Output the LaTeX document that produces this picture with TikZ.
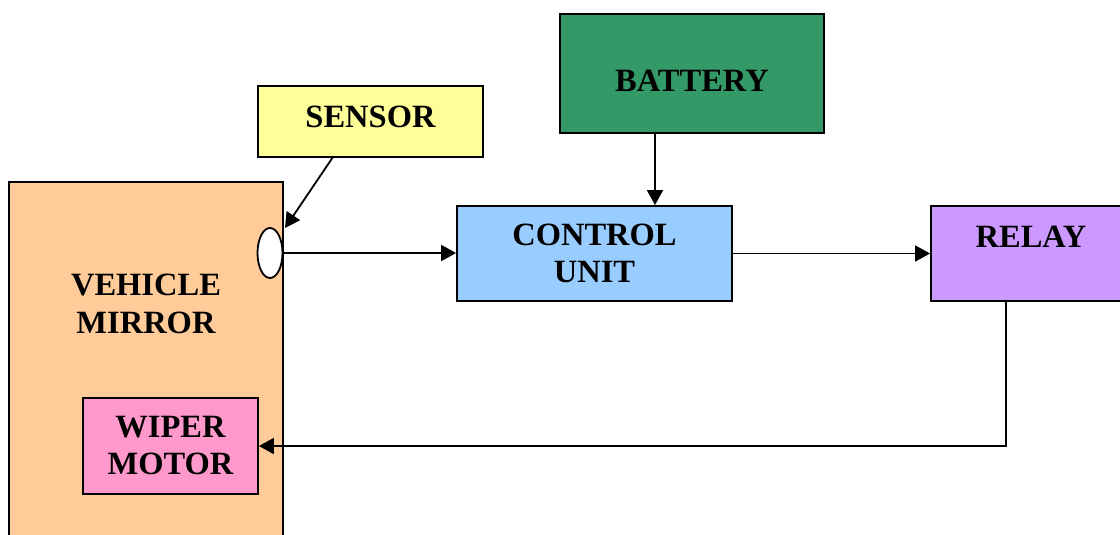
\documentclass[tikz,border=0pt]{standalone}
\usepackage{fontspec}
\setmainfont{Liberation Serif}
\usetikzlibrary{arrows.meta,shapes.geometric}
\definecolor{mirrorc}{HTML}{FFCC99}
\definecolor{sensorc}{HTML}{FFFF99}
\definecolor{batteryc}{HTML}{339966}
\definecolor{ctrlc}{HTML}{99CCFF}
\definecolor{relayc}{HTML}{CC99FF}
\definecolor{wiperc}{HTML}{FF99CC}
\tikzset{
  blk/.style={draw=black, line width=1.8pt, rectangle, inner sep=0pt, align=center,
    font=\fontsize{32.5}{37}\selectfont\bfseries},
  txt/.style={inner sep=0pt, align=center, font=\fontsize{32.5}{38}\selectfont\bfseries},
  arr/.style={line width=1.8pt, -{Triangle[length=15pt,width=16pt]}},
}
\begin{document}
\begin{tikzpicture}[x=1pt,y=-1pt]
\useasboundingbox (0,0) rectangle (1120,535);
% vehicle mirror
\node[blk, fill=mirrorc, minimum width=274pt, minimum height=380pt] (mirror) at (146,372) {};
\node[txt] (mirrortxt) at (146,304) {VEHICLE\\MIRROR};
\node[blk, fill=wiperc, minimum width=175pt, minimum height=96pt] (wiper) at (170.5,446) {WIPER\\MOTOR};
\node[draw=black, line width=1.8pt, fill=white, ellipse, minimum width=25pt, minimum height=50pt, inner sep=0pt] (eye) at (270,253) {};
% sensor
\node[blk, fill=sensorc, minimum width=225pt, minimum height=71pt] (sensor) at (370.5,121.5) {};
\node[txt] (sensortxt) at (370.5,117) {SENSOR};
% battery
\node[blk, fill=batteryc, minimum width=264pt, minimum height=119pt] (battery) at (692,73.5) {};
\node[txt] (batterytxt) at (692,81) {BATTERY};
% control unit
\node[blk, fill=ctrlc, minimum width=275pt, minimum height=95pt] (ctrl) at (594.5,253.5) {CONTROL\\UNIT};
% relay
\node[blk, fill=relayc, minimum width=200pt, minimum height=95pt] (relay) at (1031,253.5) {};
\node[txt] (relaytxt) at (1031,237) {RELAY};
% connectors
\coordinate (sstart) at (333,157);
\coordinate (send) at (285,228);
\draw[arr] (sstart) -- (send);
\draw[arr] (eye.east) -- (eye.east -| ctrl.west);
\draw[arr] (battery.south -| 655,0) -- (ctrl.north -| 655,0);
\draw[arr] (ctrl.east) -- (relay.west);
\coordinate (rb) at (1006,301);
\coordinate (corner) at (1006,446);
\draw[arr] (rb) -- (corner) -- (wiper.east);
\end{tikzpicture}
\end{document}
